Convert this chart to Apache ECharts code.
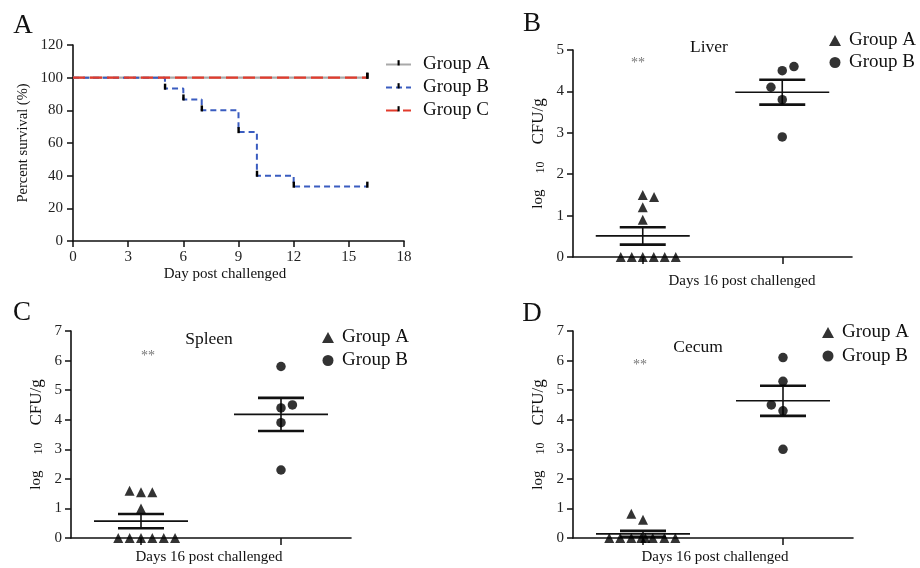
<!DOCTYPE html>
<html>
<head>
<meta charset="utf-8">
<script src="https://cdn.jsdelivr.net/npm/echarts@6/dist/echarts.min.js"></script>
<style>html,body{margin:0;padding:0;background:#fff;}#chart{width:920px;height:568px;}</style>
</head>
<body>
<div id="chart"></div>
<script>
// ---------- Panel A: survival ----------
const daysTicks = [0, 3, 6, 9, 12, 15, 18];
const survDaysA = [0, 16];
const survA = [100, 100];
const survDaysB = [0, 5, 6, 7, 9, 10, 12, 16];
const survB = [100, 93.3, 86.7, 80, 66.7, 40, 33.3, 33.3];
const survDaysC = [0, 16];
const survC = [100, 100];

// ---------- Panels B-D: CFU ----------
const groupPos = [1, 3];          // x positions of Group A / Group B columns
const liverAx = [0.685, 0.842, 1, 1.158, 1.315, 1.473, 1, 1.162, 1, 1];
const liverAy = [0, 0, 0, 0, 0, 0, 1.5, 1.45, 1.2, 0.9];
const liverBx = [3.168, 3, 2.838, 3, 3];
const liverBy = [4.6, 4.5, 4.1, 3.8, 2.9];
const liverMean = [0.51, 3.98];
const liverSem = [0.21, 0.30];

const spleenAx = [0.675, 0.838, 1, 1.162, 1.325, 1.487, 0.837, 1, 1.162, 1];
const spleenAy = [0, 0, 0, 0, 0, 0, 1.6, 1.55, 1.55, 1.0];
const spleenBx = [3, 3, 3.163, 3, 3];
const spleenBy = [5.8, 4.4, 4.5, 3.9, 2.3];
const spleenMean = [0.57, 4.18];
const spleenSem = [0.24, 0.56];

const cecumAx = [0.518, 0.675, 0.833, 0.976, 1.033, 1.139, 1.305, 1.462, 0.833, 1.0];
const cecumAy = [0, 0, 0, 0, 0, 0, 0, 0, 0.82, 0.62];
const cecumBx = [3, 3, 2.833, 3, 3];
const cecumBy = [6.1, 5.3, 4.5, 4.3, 3.0];
const cecumMean = [0.14, 4.64];
const cecumSem = [0.10, 0.51];

const FONT = '"Liberation Serif", "Times New Roman", serif';
const zip = (xs, ys) => xs.map((x, i) => [x, ys[i]]);

function survData(days, vals) {
  return days.map((d, i) => i === 0 ? { value: [d, vals[i]], symbol: 'none' } : [d, vals[i]]);
}
// square bounding box (0..10) with a thin tick drawn above the centre line
const tickSym = 'path://M0 0M10 10M4 0.5h2.2v5.5h-2.2z';

function axisLineStyle() { return { color: '#111', width: 1.6 }; }

function yAxisCfu(grid, max) {
  return {
    type: 'value', gridIndex: grid, min: 0, max: max, interval: 1,
    axisLine: { show: true, lineStyle: axisLineStyle() },
    axisTick: { show: true, length: 6, lineStyle: { color: '#111', width: 1.5 } },
    splitLine: { show: false },
    axisLabel: { color: '#222', fontFamily: FONT, fontSize: 15, margin: 9 },
    name: '{a|log}{s|10}{b|CFU/g}',
    nameLocation: 'middle', nameGap: 26, nameRotate: 90,
    nameTextStyle: {
      color: '#111', fontFamily: FONT,
      rich: {
        a: { fontFamily: FONT, fontSize: 15, color: '#111', padding: [0, 16, 0, 0] },
        s: { fontFamily: FONT, fontSize: 12, color: '#111', padding: [5, 17, 0, 0] },
        b: { fontFamily: FONT, fontSize: 17, color: '#111' }
      }
    }
  };
}
function xAxisCfu(grid) {
  return {
    type: 'value', gridIndex: grid, min: 0, max: 4,
    axisLine: { show: true, onZero: false, lineStyle: axisLineStyle() },
    axisTick: { show: true, length: 7, customValues: groupPos, lineStyle: { color: '#111', width: 1.5 } },
    axisLabel: { show: false },
    splitLine: { show: false }
  };
}

function renderMeanSem(params, api) {
  const x = api.value(0), m = api.value(1), s = api.value(2);
  const c = api.coord([x, m]);
  const t = api.coord([x, m + s]);
  const b = api.coord([x, Math.max(0, m - s)]);
  const thin = { stroke: '#111', lineWidth: 1.6 };
  const thick = { stroke: '#111', lineWidth: 2.6 };
  return {
    type: 'group', children: [
      { type: 'line', shape: { x1: c[0] - 47, y1: c[1], x2: c[0] + 47, y2: c[1] }, style: thin },
      { type: 'line', shape: { x1: c[0], y1: t[1], x2: c[0], y2: b[1] }, style: thin },
      { type: 'line', shape: { x1: c[0] - 23, y1: t[1], x2: c[0] + 23, y2: t[1] }, style: thick },
      { type: 'line', shape: { x1: c[0] - 23, y1: b[1], x2: c[0] + 23, y2: b[1] }, style: thick }
    ]
  };
}

function cfuSeries(prefix, idx, ax, ay, bx, by, mean, sem) {
  return [
    {
      type: 'custom', xAxisIndex: idx, yAxisIndex: idx, renderItem: renderMeanSem,
      dimensions: ['x', 'm', 's'], encode: { x: 0, y: 1 }, z: 2, silent: true,
      data: groupPos.map((p, i) => [p, mean[i], sem[i]])
    },
    {
      name: prefix + '|Group A', type: 'scatter', xAxisIndex: idx, yAxisIndex: idx,
      symbol: 'triangle', symbolSize: 10, itemStyle: { color: '#000' }, z: 5,
      data: zip(ax, ay)
    },
    {
      name: prefix + '|Group B', type: 'scatter', xAxisIndex: idx, yAxisIndex: idx,
      symbol: 'circle', symbolSize: 9.5, itemStyle: { color: '#000' }, z: 5,
      data: zip(bx, by)
    }
  ];
}

function legendCfu(prefix, left, top, gap) {
  return {
    orient: 'vertical', left: left, top: top, padding: 0, itemGap: gap,
    itemWidth: 12, itemHeight: 11, selectedMode: false,
    formatter: n => n.split('|')[1],
    textStyle: { fontFamily: FONT, fontSize: 19, color: '#111', padding: [0, 0, 0, 3] },
    data: [{ name: prefix + '|Group A', icon: 'triangle' }, { name: prefix + '|Group B', icon: 'circle' }]
  };
}

function txt(text, x, y, size, color) {
  return {
    type: 'text', x: x, y: y, silent: true,
    style: { text: text, font: size + 'px ' + FONT, fill: color || '#111', align: 'center', verticalAlign: 'middle' }
  };
}

const chart = echarts.init(document.getElementById('chart'), null, { renderer: 'canvas' });
const option = {
  backgroundColor: '#fff',
  animation: false,
  grid: [
    { left: 73, top: 45, width: 331, height: 196 },
    { left: 573, top: 50, width: 279, height: 207 },
    { left: 71, top: 331, width: 280, height: 207 },
    { left: 573, top: 331, width: 280, height: 207 }
  ],
  xAxis: [
    {
      type: 'value', gridIndex: 0, min: daysTicks[0], max: daysTicks[daysTicks.length - 1], interval: 3,
      axisLine: { show: true, onZero: false, lineStyle: axisLineStyle() },
      axisTick: { show: true, length: 6, lineStyle: { color: '#111', width: 1.5 } },
      axisLabel: { color: '#222', fontFamily: FONT, fontSize: 15, margin: 9 },
      splitLine: { show: false }
    },
    xAxisCfu(1), xAxisCfu(2), xAxisCfu(3)
  ],
  yAxis: [
    {
      type: 'value', gridIndex: 0, min: 0, max: 120, interval: 20,
      axisLine: { show: true, lineStyle: axisLineStyle() },
      axisTick: { show: true, length: 6, lineStyle: { color: '#111', width: 1.5 } },
      axisLabel: { color: '#222', fontFamily: FONT, fontSize: 15, margin: 10 },
      splitLine: { show: false },
      name: 'Percent survival (%)', nameLocation: 'middle', nameGap: 42,
      nameTextStyle: { color: '#111', fontFamily: FONT, fontSize: 14.5 }
    },
    yAxisCfu(1, 5), yAxisCfu(2, 7), yAxisCfu(3, 7)
  ],
  legend: [
    {
      orient: 'vertical', left: 385, top: 55, padding: 0, itemGap: 4,
      itemWidth: 25, itemHeight: 12, selectedMode: false,
      formatter: n => n.split('|')[1],
      textStyle: { fontFamily: FONT, fontSize: 19, color: '#111', padding: [0, 0, 0, 7] },
      data: ['S|Group A', 'S|Group B', 'S|Group C']
    },
    legendCfu('L', 829, 31, 3),
    legendCfu('P', 322, 328, 4),
    legendCfu('K', 822, 323, 4.5)
  ],
  series: [
    {
      name: 'S|Group A', type: 'line', xAxisIndex: 0, yAxisIndex: 0, step: 'end',
      data: survData(survDaysA, survA), symbol: tickSym, symbolSize: 11,
      showAllSymbol: true, itemStyle: { color: '#000' },
      lineStyle: { color: '#a9a9a9', width: 2.2, type: 'solid' }, z: 2
    },
    {
      name: 'S|Group B', type: 'line', xAxisIndex: 0, yAxisIndex: 0, step: 'end',
      data: survData(survDaysB, survB), symbol: tickSym, symbolSize: 11,
      showAllSymbol: true, itemStyle: { color: '#000' },
      lineStyle: { color: '#3a5cc0', width: 2, type: [6, 4] }, z: 3
    },
    {
      name: 'S|Group C', type: 'line', xAxisIndex: 0, yAxisIndex: 0, step: 'end',
      data: survData(survDaysC, survC), symbol: tickSym, symbolSize: 11,
      showAllSymbol: true, itemStyle: { color: '#000' },
      lineStyle: { color: '#e23b2c', width: 2.2, type: [12, 5] }, z: 4
    }
  ]
    .concat(cfuSeries('L', 1, liverAx, liverAy, liverBx, liverBy, liverMean, liverSem))
    .concat(cfuSeries('P', 2, spleenAx, spleenAy, spleenBx, spleenBy, spleenMean, spleenSem))
    .concat(cfuSeries('K', 3, cecumAx, cecumAy, cecumBx, cecumBy, cecumMean, cecumSem)),
  graphic: [
    txt('A', 23, 26, 27),
    txt('B', 532, 24, 27),
    txt('C', 22, 313, 27),
    txt('D', 532, 314, 27),
    txt('Day post challenged', 225, 274, 15),
    txt('Days 16 post challenged', 742, 281, 15),
    txt('Days 16 post challenged', 209, 557, 15),
    txt('Days 16 post challenged', 715, 557, 15),
    txt('Liver', 709, 47, 17.5),
    txt('Spleen', 209, 339, 17.5),
    txt('Cecum', 698, 347, 17.5),
    txt('**', 638, 63, 14, '#777'),
    txt('**', 148, 356, 14, '#777'),
    txt('**', 640, 365, 14, '#777')
  ]
};
chart.setOption(option);
</script>
</body>
</html>
